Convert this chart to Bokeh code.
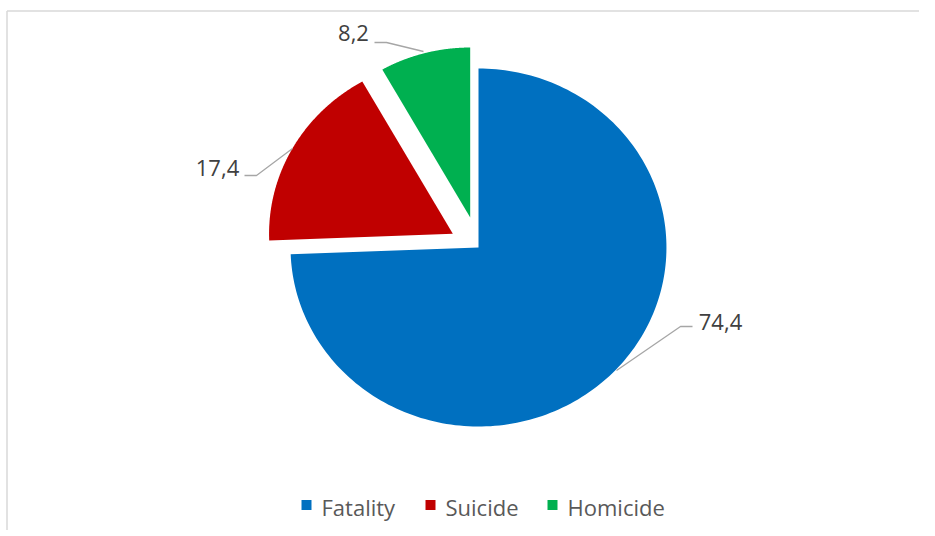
import numpy as np
from bokeh.plotting import figure
from bokeh.models import Range1d
from bokeh.core.properties import value
from bokeh.embed import file_html
from bokeh.resources import INLINE

# ---- data ----
categories = ["Fatality", "Suicide", "Homicide"]
values = [74.4, 17.4, 8.2]
labels = ["74,4", "17,4", "8,2"]
colors = ["#0070C0", "#C00000", "#00B050"]

# ---- layout / style (pixel coordinates of the picture) ----
W, H = 919, 530
cx, cy = 478.0, 247.0
radius_y = [179, 175, 170]
stretch = 1.05
explode = [0, 28, 31]
label_pos = [(720, 321), (217, 167), (353, 32)]
leaders = [
    ([616, 680, 692], [370, 326, 326]),
    ([292, 256, 244], [148, 175, 175]),
    ([423, 386, 374], [51, 42, 42]),
]
legend_sq_x = [306, 430, 552]
legend_txt_x = [321, 445, 567]
legend_y = 504.5
FONT = "Open Sans"

p = figure(width=W, height=H, output_backend="svg", toolbar_location=None,
           x_range=Range1d(0, W), y_range=Range1d(H, 0),
           x_axis_location=None, y_axis_location=None, min_border=0)
p.grid.visible = False
p.outline_line_color = None
p.background_fill_color = "white"

# chart border (top and left visible)
p.line([6.5, W], [10.5, 10.5], line_color="#d9d9d9", line_width=1.5)
p.line([6.5, 6.5], [10.5, H], line_color="#d9d9d9", line_width=1.5)

total = float(sum(values))
fr = np.array(values) / total
ends = np.cumsum(fr) * 360.0
starts = ends - fr * 360.0

xs, ys = [], []
for i in range(len(values)):
    a0, a1 = np.radians(starts[i]), np.radians(ends[i])
    mid = (a0 + a1) / 2
    ry = radius_y[i]
    rx = ry * stretch
    ox = cx + explode[i] * stretch * np.sin(mid)
    oy = cy - explode[i] * np.cos(mid)
    t = np.linspace(a0, a1, 200)
    px = np.concatenate([[ox], ox + rx * np.sin(t)])
    py = np.concatenate([[oy], oy - ry * np.cos(t)])
    xs.append(list(px))
    ys.append(list(py))

p.patches(xs=xs, ys=ys, fill_color=colors, line_color=None)

# leader lines
p.multi_line(xs=[l[0] for l in leaders], ys=[l[1] for l in leaders],
             line_color="#a6a6a6", line_width=1.3)

# data labels
p.text(x=[q[0] for q in label_pos], y=[q[1] for q in label_pos], text=labels,
       text_font=value(FONT), text_font_size="22px", text_color="#404040",
       text_align="center", text_baseline="middle")

# legend
p.scatter(x=legend_sq_x, y=[legend_y] * 3, marker="square", size=10,
          fill_color=colors, line_color=None)
p.text(x=legend_txt_x, y=[legend_y + 2] * 3, text=categories,
       text_font=value(FONT), text_font_size="22px", text_color="#595959",
       text_align="left", text_baseline="middle")

open("out.html", "w").write(file_html(p, INLINE))
